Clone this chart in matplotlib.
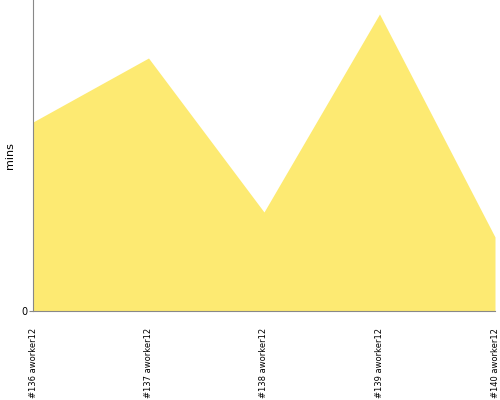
import matplotlib
matplotlib.use("Agg")
import matplotlib.pyplot as plt

labels = ["#136 aworker12", "#137 aworker12", "#138 aworker12",
          "#139 aworker12", "#140 aworker12"]
mins = [189, 253, 99, 297, 74]

fig = plt.figure(figsize=(5, 4), dpi=100)
ax = fig.add_axes([0.066, 0.2225, 0.924, 0.7775])

x = list(range(len(labels)))
ax.fill_between(x, mins, 0, color="#fdea72", linewidth=0)
ax.set_xlim(0, len(labels) - 1)
ax.set_ylim(0, 311)

ax.set_xticks(x)
ax.set_xticklabels(labels, rotation=90, fontsize=6,
                   family=["Liberation Sans Narrow", "DejaVu Sans"])
ax.set_yticks([0])
ax.tick_params(axis="y", length=3, color="#888888", labelsize=7, pad=1)
ax.tick_params(axis="x", length=0, pad=12)
ax.set_ylabel("mins", fontsize=8)
ax.yaxis.set_label_coords(-0.04, 0.5)

for side in ["top", "right"]:
    ax.spines[side].set_visible(False)
for side in ["left", "bottom"]:
    ax.spines[side].set_color("#888888")

fig.savefig("out.png", dpi=100)
